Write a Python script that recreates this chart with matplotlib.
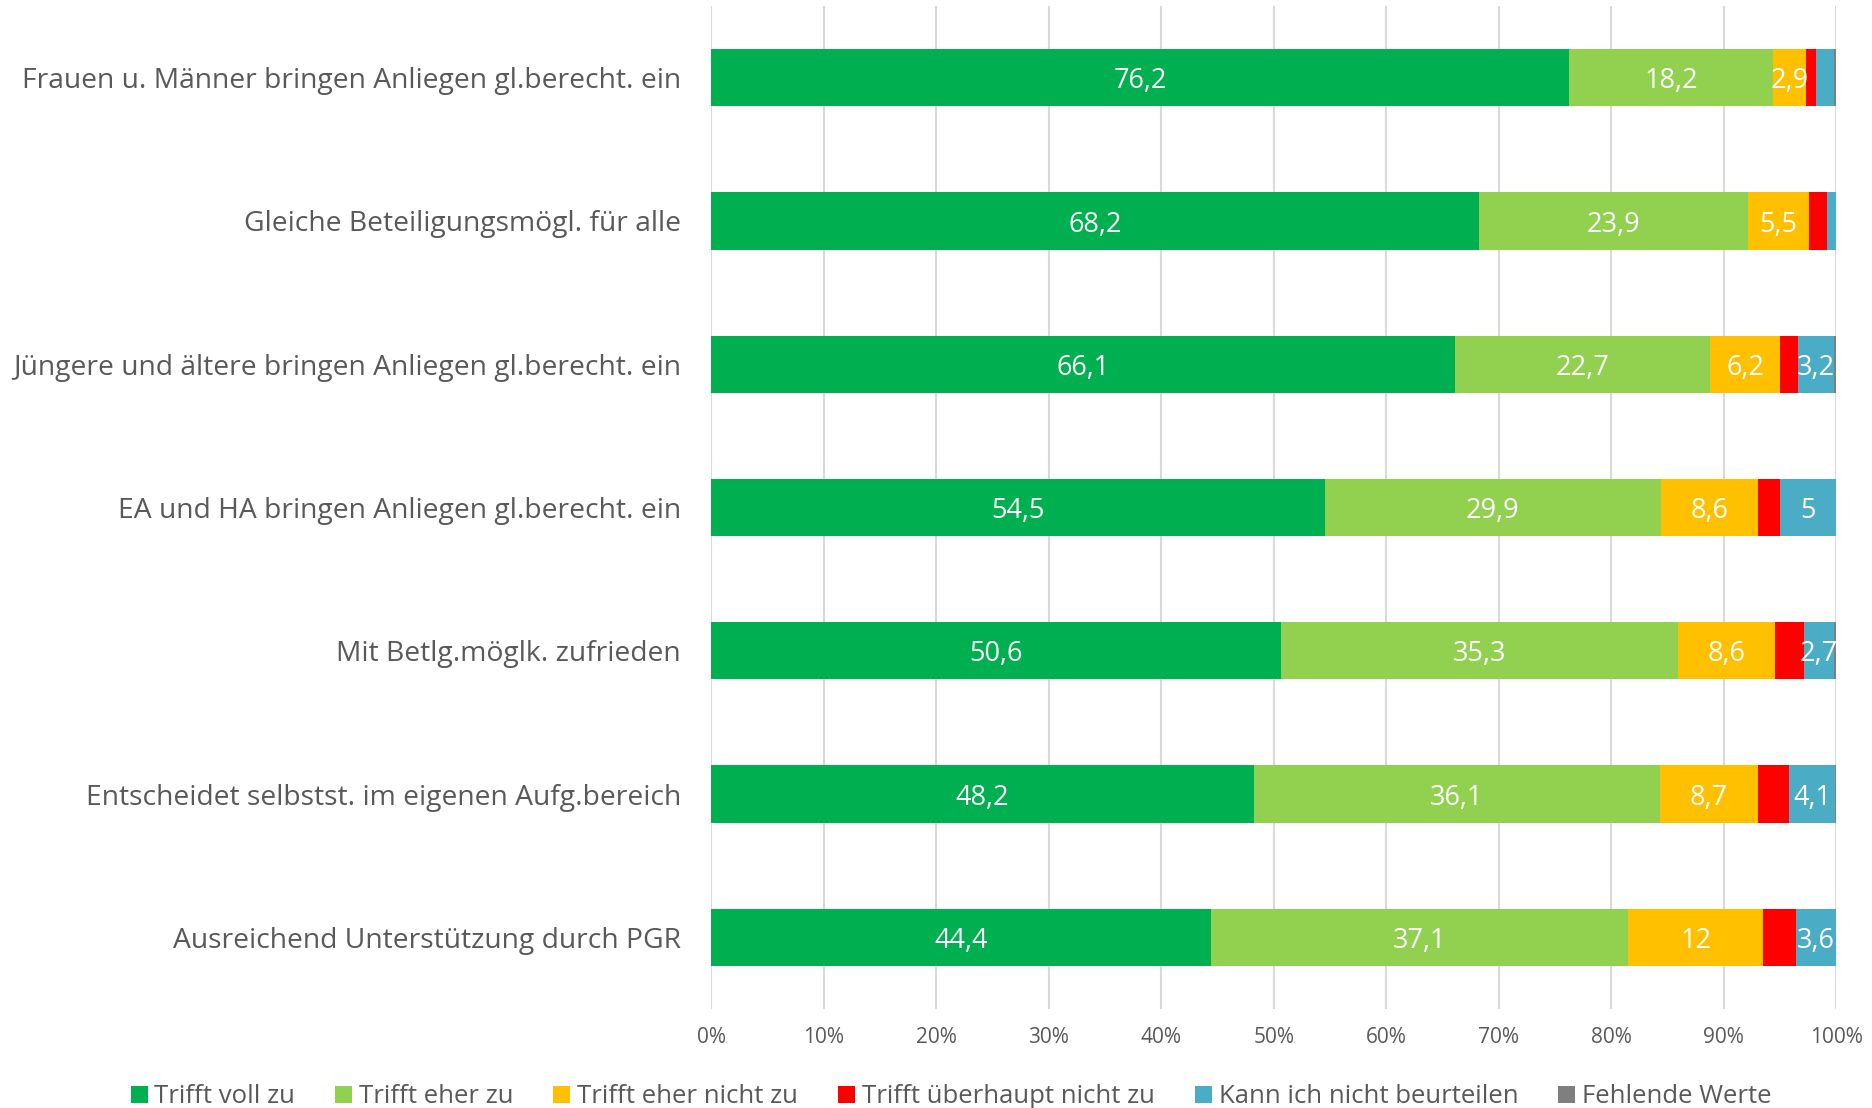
import matplotlib.pyplot as plt
import numpy as np

plt.rcParams['font.family'] = ['Open Sans', 'DejaVu Sans']

# Survey items (top to bottom)
items = [
    "Frauen u. Männer bringen Anliegen gl.berecht. ein",
    "Gleiche Beteiligungsmögl. für alle",
    "Jüngere und ältere bringen Anliegen gl.berecht. ein",
    "EA und HA bringen Anliegen gl.berecht. ein",
    "Mit Betlg.möglk. zufrieden",
    "Entscheidet selbstst. im eigenen Aufg.bereich",
    "Ausreichend Unterstützung durch PGR",
]

series_names = ["Trifft voll zu", "Trifft eher zu", "Trifft eher nicht zu",
                "Trifft überhaupt nicht zu", "Kann ich nicht beurteilen", "Fehlende Werte"]

voll_zu = [76.2, 68.2, 66.1, 54.5, 50.6, 48.2, 44.4]
eher_zu = [18.2, 23.9, 22.7, 29.9, 35.3, 36.1, 37.1]
eher_nicht = [2.9, 5.5, 6.2, 8.6, 8.6, 8.7, 12.0]
gar_nicht = [0.9, 1.6, 1.6, 2.0, 2.6, 2.8, 2.9]
kann_nicht = [1.6, 0.8, 3.2, 5.0, 2.7, 4.1, 3.6]
fehlend = [0.2, 0.0, 0.2, 0.0, 0.2, 0.1, 0.0]

colors = ['#00B050', '#92D050', '#FFC000', '#FF0000', '#4BACC6', '#7F7F7F']
show_labels = [True, True, True, False, True, False]

data = np.array([voll_zu, eher_zu, eher_nicht, gar_nicht, kann_nicht, fehlend])

fig = plt.figure(figsize=(18.72, 11.08), dpi=100)
ax = fig.add_axes([0.380, 0.0893, 0.601, 0.9053])

y = np.arange(len(items))
left = np.zeros(len(items))
for i, name in enumerate(series_names):
    vals = data[i]
    ax.barh(y, vals, left=left, height=0.4, color=colors[i], label=name, zorder=3)
    if show_labels[i]:
        for yy, l, v in zip(y, left, vals):
            if v >= 2.5:
                txt = f"{v:g}".replace('.', ',')
                # small nudge down so the digits sit centred like Excel's labels
                ax.text(l + v / 2, yy + 0.025, txt, ha='center', va='center',
                        color='white', fontsize=19.5, zorder=4)
    left += vals

ax.set_xlim(0, 100)
ax.set_ylim(len(items) - 0.5, -0.5)
ax.set_yticks(y)
ax.set_yticklabels(items, fontsize=20.3, color='#595959')
ax.set_xticks(np.arange(0, 101, 10))
ax.set_xticklabels([f"{t}%" for t in range(0, 101, 10)], fontsize=15, color='#595959')
ax.tick_params(axis='both', length=0)
ax.tick_params(axis='y', pad=22)
ax.tick_params(axis='x', pad=13)
ax.grid(axis='x', color='#D9D9D9', linewidth=1.5, zorder=0)
for s in ax.spines.values():
    s.set_visible(False)

leg = fig.legend(loc='center', bbox_to_anchor=(0.508, 0.010), ncol=6, frameon=False,
                 fontsize=18.5, handlelength=0.66, handleheight=0.66, handletextpad=0.27,
                 columnspacing=1.55, labelcolor='#595959')

fig.savefig('out.png', dpi=100)
